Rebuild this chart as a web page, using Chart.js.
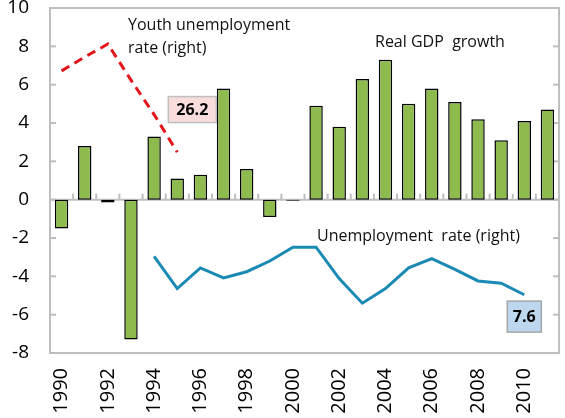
<!DOCTYPE html>
<html lang="en">
<head>
    <meta charset="UTF-8">
    <title>Real GDP growth and unemployment</title>
    <script src="https://cdn.jsdelivr.net/npm/chart.js"></script>
    <style>
        body { margin: 0; background: #fff; }
    </style>
</head>
<body>
    <canvas id="chartCanvas" width="565" height="418"></canvas>
    <script>
        // Data
        const years = ['1990', '1991', '1992', '1993', '1994', '1995', '1996', '1997', '1998', '1999', '2000',
                       '2001', '2002', '2003', '2004', '2005', '2006', '2007', '2008', '2009', '2010', '2011'];
        const gdpGrowth = [-1.5, 2.8, -0.15, -7.3, 3.3, 1.1, 1.3, 5.8, 1.6, -0.9, -0.05,
                           4.9, 3.8, 6.3, 7.3, 5.0, 5.8, 5.1, 4.2, 3.1, 4.1, 4.7];
        // right axis (hidden), per cent
        const unemployment = [null, null, null, null, 12.6, 8.4, 11.1, 9.8, 10.6, 12.0, 13.8,
                              13.8, 9.7, 6.5, 8.4, 11.1, 12.3, 10.9, 9.4, 9.1, 7.6, null];
        const youthUnemployment = [36.8, 38.6, 40.3, 35.6, 31.1, 26.2, null, null, null, null, null,
                                   null, null, null, null, null, null, null, null, null, null, null];
        const leftTicks = { min: -8, max: 10, step: 2 };
        const rightTicks = { min: 0, max: 45, step: 5 };

        const FONT = '"Open Sans", "DejaVu Sans", sans-serif';
        const GRAY = '#BFBFBF';

        function line(ctx, x1, y1, x2, y2) {
            ctx.beginPath();
            ctx.moveTo(x1, y1);
            ctx.lineTo(x2, y2);
            ctx.stroke();
        }

        // Frame, inward ticks and the zero axis
        const framePlugin = {
            id: 'frame',
            beforeDatasetsDraw(chart) {
                const { ctx, chartArea: a, scales: { x, y, y2 } } = chart;
                ctx.save();
                ctx.strokeStyle = GRAY;
                ctx.lineWidth = 2;
                ctx.strokeRect(a.left, a.top, a.right - a.left, a.bottom - a.top);
                for (let v = leftTicks.min; v <= leftTicks.max; v += leftTicks.step) {
                    const py = y.getPixelForValue(v);
                    line(ctx, a.left, py, a.left + 6, py);
                }
                for (let v = rightTicks.min; v <= rightTicks.max; v += rightTicks.step) {
                    const py = y2.getPixelForValue(v);
                    line(ctx, a.right - 6, py, a.right, py);
                }
                const y0 = y.getPixelForValue(0);
                line(ctx, a.left, y0, a.right, y0);
                const half = (a.right - a.left) / years.length / 2;
                for (let i = 1; i < years.length; i++) {
                    const px = x.getPixelForValue(i) - half;
                    line(ctx, px, y0, px, y0 - 6);
                }
                ctx.restore();
            },
            afterDraw(chart) {
                const { ctx, scales: { x, y } } = chart;
                ctx.save();
                ctx.fillStyle = '#111';
                ctx.font = '16px ' + FONT;
                ctx.textBaseline = 'middle';
                ctx.textAlign = 'left';
                ctx.fillText('Youth unemployment', 128, 25);
                ctx.fillText('rate (right)', 128, 48);
                ctx.fillText('Real GDP  growth', 375, 42);
                ctx.fillText('Unemployment  rate (right)', 317, 236);

                // value boxes
                function box(text, xi, yv, w, h, fill, stroke) {
                    const cx = x.getPixelForValue(xi);
                    const cy = y.getPixelForValue(yv);
                    ctx.fillStyle = fill;
                    ctx.fillRect(cx - w / 2, cy - h / 2, w, h);
                    ctx.strokeStyle = stroke;
                    ctx.lineWidth = 1.5;
                    ctx.strokeRect(cx - w / 2, cy - h / 2, w, h);
                    ctx.fillStyle = '#000';
                    ctx.font = 'bold 16px ' + FONT;
                    ctx.textAlign = 'center';
                    ctx.fillText(text, cx, cy + 1);
                }
                box(youthUnemployment[5].toFixed(1), 5.65, 4.7, 48, 26, '#F9DCDC', GRAY);
                box(unemployment[20].toFixed(1), 20, -6.1, 34, 31, '#BDD7EE', '#A6A6A6');
                ctx.restore();
            }
        };

        const ctx = document.getElementById('chartCanvas').getContext('2d');
        new Chart(ctx, {
            data: {
                labels: years,
                datasets: [
                    {
                        type: 'line',
                        label: 'Youth unemployment rate (right)',
                        data: youthUnemployment,
                        yAxisID: 'y2',
                        borderColor: '#E3141B',
                        borderWidth: 3,
                        borderDash: [9, 6],
                        pointRadius: 0,
                        tension: 0,
                        order: 1
                    },
                    {
                        type: 'line',
                        label: 'Unemployment rate (right)',
                        data: unemployment,
                        yAxisID: 'y2',
                        borderColor: '#1A8AB5',
                        borderWidth: 3,
                        pointRadius: 0,
                        tension: 0,
                        order: 1
                    },
                    {
                        type: 'bar',
                        label: 'Real GDP growth',
                        data: gdpGrowth,
                        yAxisID: 'y',
                        backgroundColor: '#8DBB4E',
                        borderColor: '#000',
                        borderWidth: 1.5,
                        borderSkipped: false,
                        categoryPercentage: 1,
                        barPercentage: 0.58,
                        order: 2
                    }
                ]
            },
            options: {
                responsive: false,
                animation: false,
                layout: { padding: { top: 8, right: 6, left: 0, bottom: 0 } },
                plugins: {
                    legend: { display: false },
                    tooltip: { enabled: false }
                },
                scales: {
                    x: {
                        grid: { display: false },
                        border: { display: false },
                        ticks: {
                            autoSkip: false,
                            maxRotation: 90,
                            minRotation: 90,
                            padding: 7,
                            color: '#000',
                            font: { family: FONT, size: 20 },
                            callback: (v, i) => (i % 2 === 0 ? years[i] : '')
                        },
                        afterFit: s => {
                            s.height = 65;
                            s.paddingLeft = 0;
                            s.paddingRight = 0;
                        }
                    },
                    y: {
                        position: 'left',
                        min: leftTicks.min,
                        max: leftTicks.max,
                        grid: { display: false },
                        border: { display: false },
                        ticks: {
                            stepSize: leftTicks.step,
                            padding: 13,
                            color: '#000',
                            font: { family: FONT, size: 19 }
                        },
                        afterFit: s => {
                            s.width = 50;
                            s.paddingTop = 0;
                            s.paddingBottom = 0;
                        }
                    },
                    y2: {
                        position: 'right',
                        display: false,
                        min: rightTicks.min,
                        max: rightTicks.max
                    }
                }
            },
            plugins: [framePlugin]
        });
    </script>
</body>
</html>
